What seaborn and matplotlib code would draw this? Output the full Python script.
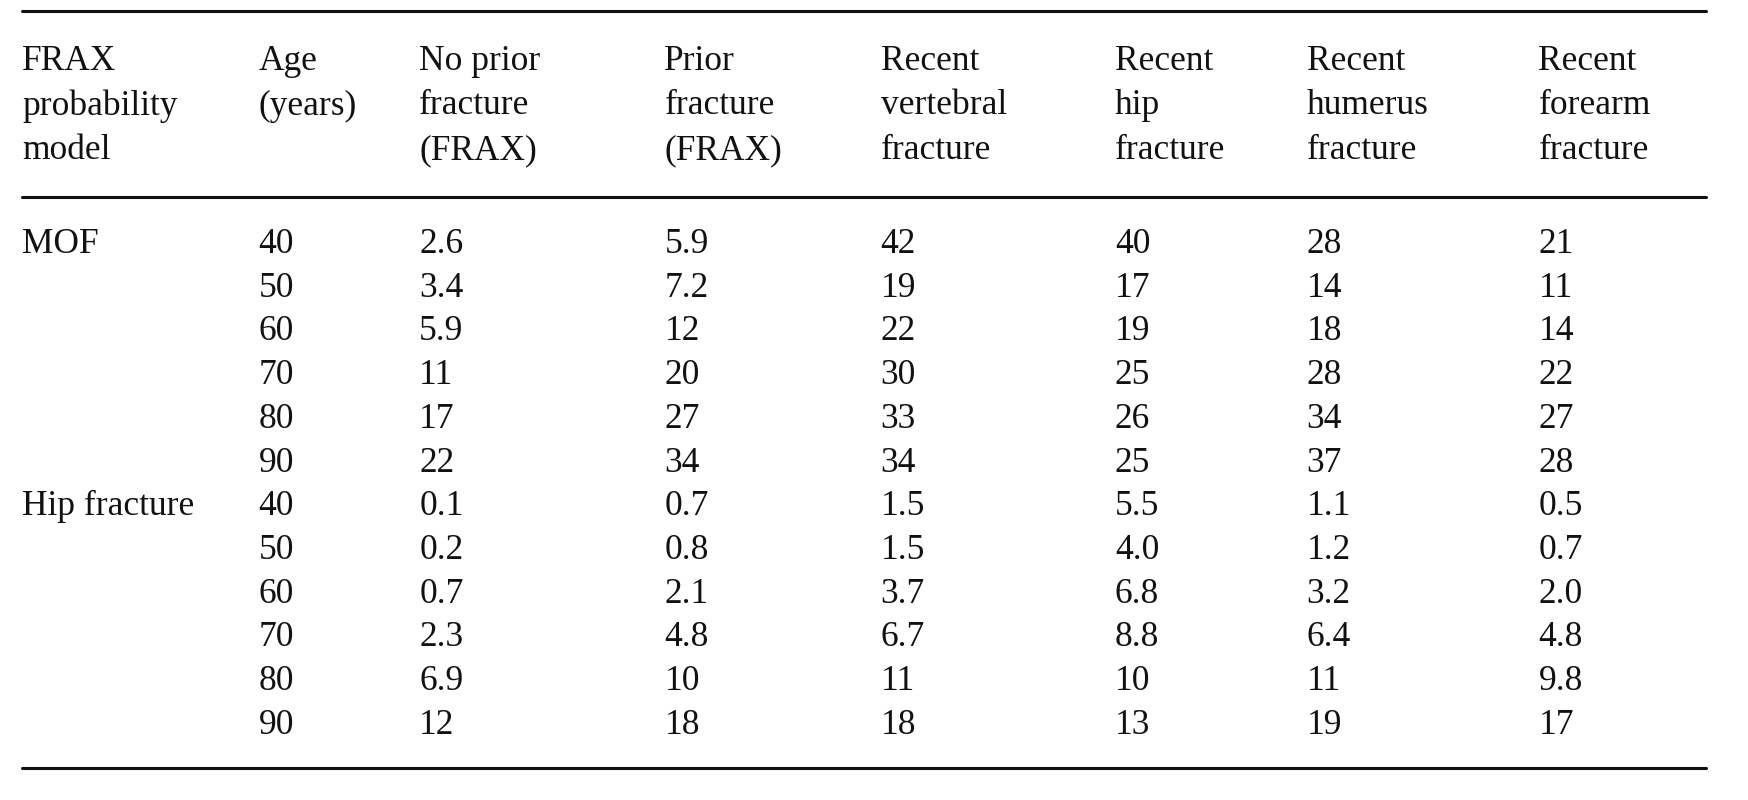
import matplotlib
matplotlib.use("Agg")
import matplotlib.pyplot as plt
import seaborn as sns

sns.set_theme(style="white")
plt.rcParams['font.family'] = ['Liberation Serif', 'DejaVu Serif']

headers = ["FRAX\nprobability\nmodel", "Age\n(years)", "No prior\nfracture\n(FRAX)", "Prior\nfracture\n(FRAX)",
           "Recent\nvertebral\nfracture", "Recent\nhip\nfracture", "Recent\nhumerus\nfracture", "Recent\nforearm\nfracture"]
models = ["MOF", "", "", "", "", "", "Hip fracture", "", "", "", "", ""]
ages = ["40", "50", "60", "70", "80", "90"] * 2
no_prior = ["2.6", "3.4", "5.9", "11", "17", "22", "0.1", "0.2", "0.7", "2.3", "6.9", "12"]
prior = ["5.9", "7.2", "12", "20", "27", "34", "0.7", "0.8", "2.1", "4.8", "10", "18"]
vertebral = ["42", "19", "22", "30", "33", "34", "1.5", "1.5", "3.7", "6.7", "11", "18"]
hip = ["40", "17", "19", "25", "26", "25", "5.5", "4.0", "6.8", "8.8", "10", "13"]
humerus = ["28", "14", "18", "28", "34", "37", "1.1", "1.2", "3.2", "6.4", "11", "19"]
forearm = ["21", "11", "14", "22", "27", "28", "0.5", "0.7", "2.0", "4.8", "9.8", "17"]

cols = [models, ages, no_prior, prior, vertebral, hip, humerus, forearm]

fig = plt.figure(figsize=(17.48, 8.0), dpi=100)
ax = fig.add_axes([0, 0, 1, 1])
ax.set_xlim(0, 1568)
ax.set_ylim(717, 0)
ax.axis("off")

colx = [20, 232, 376, 596, 790, 1000, 1172, 1380]
fs = 25.5
for x, h in zip(colx, headers):
    for j, line in enumerate(h.split("\n")):
        ax.text(x, 55 + j * 40, line, fontsize=fs, va="center", ha="left", color="#111")
row0, step = 219, 39.2
for x, col in zip(colx, cols):
    for i, v in enumerate(col):
        ax.text(x, row0 + i * step, v, fontsize=fs, va="center", ha="left", color="#111")
for y in (10, 177, 688):
    ax.plot([20, 1530], [y, y], color="#111", lw=2.2)

fig.savefig("out.png", dpi=100)
